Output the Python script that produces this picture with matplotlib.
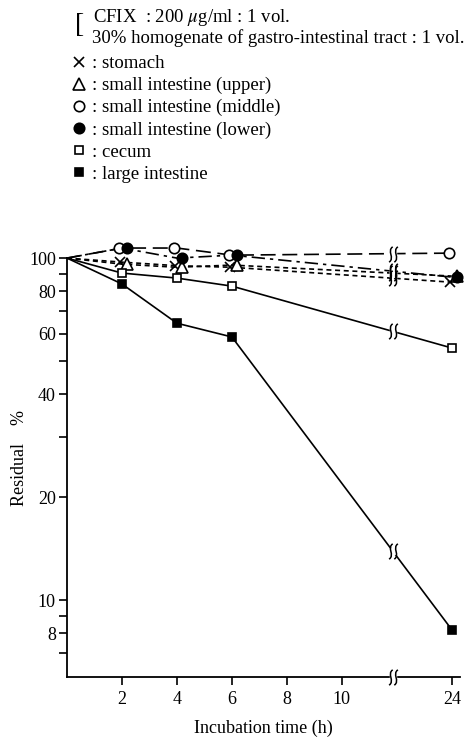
import numpy as np
import matplotlib.pyplot as plt
import matplotlib.transforms as mtransforms
from matplotlib.lines import Line2D
from matplotlib.path import Path

plt.rcParams['font.family'] = ['Liberation Serif', 'DejaVu Serif']
plt.rcParams['mathtext.fontset'] = 'stix'

# ======================================================
# Data
# ======================================================

hours = np.array([0, 2, 4, 6, 24])

stomach = [100, 97.3, 95, 94, 85]
si_upper = [100, 96, 94, 95.4, 88.6]
si_middle = [100, 107, 107, 102, 103.4]
si_lower = [100, 107, 100, 102, 88]
cecum = [100, 90.4, 87.4, 82.8, 54.6]
large = [100, 84, 64.5, 58.8, 8.2]

xtick_hours = [2, 4, 6, 8, 10, 24]
ytick_vals = [7, 8, 9, 10, 20, 30, 40, 50, 60, 70, 80, 90, 100]
ytick_labels = ['', '8', '', '10', '20', '', '40', '', '60', '', '80', '', '100']

# hours beyond the break are shifted left
BREAK_SHIFT = 10
X_BREAK = 11.85


def xpos(h):
    h = np.asarray(h, dtype=float)
    return np.where(h > 12, h - BREAK_SHIFT, h)


# ======================================================
# Figure
# ======================================================

fig = plt.figure(figsize=(4.77, 7.38), dpi=100)
ax = fig.add_axes([67/477, 1-677/738, 393/477, 446/738])

# (values, line style, marker style, small horizontal nudge of markers in px)
series = [
    (stomach, (0, (3, 2.2)), dict(marker='x', mfc='black', ms=6.5), -2),
    (si_upper, (0, (3, 2.2)), dict(marker='^', mfc='white', ms=8), 5),
    (si_middle, (0, (9, 4)), dict(marker='o', mfc='white', ms=7.5), -3),
    (si_lower, (0, (8, 3, 2, 3)), dict(marker='o', mfc='black', ms=7.5), 5),
    (cecum, '-', dict(marker='s', mfc='white', ms=5.5), 0),
    (large, '-', dict(marker='s', mfc='black', ms=6), 0),
]

# squiggle marker for axis breaks
def squiggle():
    verts = []
    codes = []
    for dx in (-0.17, 0.17):
        verts += [(dx-0.12, -0.5), (dx+0.28, -0.25), (dx-0.28, 0.25), (dx+0.12, 0.5)]
        codes += [Path.MOVETO, Path.CURVE4, Path.CURVE4, Path.CURVE4]
    return Path(verts, codes)

SQ = squiggle()

xs = xpos(hours)
for vals, ls, mk, nudge in series:
    ax.plot(xs, vals, color='black', lw=1.2, ls=ls, clip_on=False)
    tr = ax.transData + mtransforms.ScaledTranslation(nudge/100, 0, fig.dpi_scale_trans)
    ax.plot(xs[1:], vals[1:], ls='none', color='black', mec='black', mew=1.2,
            transform=tr, clip_on=False, zorder=3, **mk)
    # break mark on the 6h -> 24h segment
    t = (X_BREAK - xs[3]) / (xs[4] - xs[3])
    yb = 10 ** (np.log10(vals[3]) + t * (np.log10(vals[4]) - np.log10(vals[3])))
    ax.plot([X_BREAK], [yb], marker='s', ms=5, color='white', mec='white', zorder=4)
    ax.plot([X_BREAK], [yb], marker=SQ, ms=11, color='black', mfc='none', mew=1.1, zorder=5)

# axis break on the x axis
ax.plot([X_BREAK], [5.96], marker='s', ms=5, color='white', mec='white', zorder=4, clip_on=False)
ax.plot([X_BREAK], [5.96], marker=SQ, ms=11, color='black', mfc='none', mew=1.1, zorder=5, clip_on=False)

ax.set_yscale('log')
ax.set_ylim(5.96, 120)
ax.set_xlim(0, 14.3)

ax.set_yticks(ytick_vals)
ax.set_yticklabels(ytick_labels)
ax.yaxis.set_minor_locator(plt.NullLocator())
ax.set_xticks(xpos(xtick_hours))
ax.set_xticklabels([str(h) for h in xtick_hours])

ax.tick_params(direction='out', length=6, width=1.2, labelsize=13)
ax.tick_params(axis='x', pad=4)
ax.tick_params(axis='y', pad=2)

for side in ('top', 'right'):
    ax.spines[side].set_visible(False)
ax.spines['left'].set_bounds(5.96, 100)
ax.spines['left'].set_linewidth(1.3)
ax.spines['bottom'].set_linewidth(1.3)

ax.set_ylabel('Residual    %', fontsize=13)
ax.yaxis.set_label_coords(-0.10, 0.49)
ax.set_xlabel('Incubation time (h)', fontsize=13)
ax.xaxis.set_label_coords(0.5, -0.095)

# ======================================================
# Header and legend
# ======================================================

fig.text(75/477, 1-26/738, '[', fontsize=20, va='center', ha='left')
fig.text(93/477, 1-18/738, r'CFIX  : 200 $\mu$g/ml : 1 vol.', fontsize=13.5, va='center')
fig.text(92/477, 1-38/738, '30% homogenate of gastro-intestinal tract : 1 vol.', fontsize=13.5, va='center')

labels = [': stomach', ': small intestine (upper)', ': small intestine (middle)',
          ': small intestine (lower)', ': cecum', ': large intestine']
handles = [Line2D([], [], color='black', ls='none', mec='black', mew=1.2, **mk)
           for _, _, mk, _ in series]
fig.legend(handles, labels, loc='upper left', bbox_to_anchor=(72/477, 1-55/738),
           frameon=False, handlelength=0.8, handletextpad=0.25, labelspacing=0.26,
           borderpad=0, borderaxespad=0, prop={'size': 13.5})

fig.savefig('out.png', dpi=100)
